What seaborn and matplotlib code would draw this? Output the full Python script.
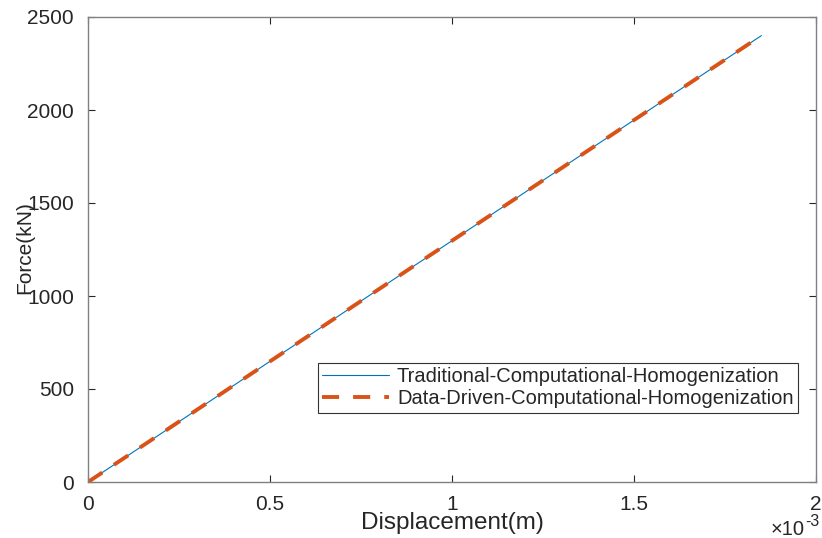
import matplotlib
matplotlib.use("Agg")
import matplotlib.pyplot as plt
import seaborn as sns
import pandas as pd
from matplotlib.ticker import FuncFormatter, FixedLocator

# Force-displacement response (linear elastic)
displacement = [0.0, 1.85e-3]          # m
force_traditional = [0.0, 2400.0]      # kN
force_data_driven = [0.0, 2400.0]      # kN

series_names = ["Traditional-Computational-Homogenization",
                "Data-Driven-Computational-Homogenization"]
x_ticks = [0.0, 0.5e-3, 1.0e-3, 1.5e-3, 2.0e-3]
y_ticks = [0, 500, 1000, 1500, 2000, 2500]

sns.set_style("white")
plt.rcParams["font.family"] = ["Liberation Sans", "DejaVu Sans"]

df = pd.DataFrame({
    "Displacement": displacement * 2,
    "Force": force_traditional + force_data_driven,
    "Method": [series_names[0]] * 2 + [series_names[1]] * 2,
})

W, H = 822, 538
fig = plt.figure(figsize=(W / 100, H / 100), dpi=100)
ax = fig.add_axes([88 / W, 1 - 482 / H, (816 - 88) / W, (482 - 17) / H])

blue = (0.0, 0.447, 0.741)
orange = (0.85, 0.325, 0.098)
text_col = "#262626"

sns.lineplot(data=df[df.Method == series_names[0]], x="Displacement", y="Force",
             color=blue, linewidth=0.8, ax=ax, label=series_names[0])
sns.lineplot(data=df[df.Method == series_names[1]], x="Displacement", y="Force",
             color=orange, linewidth=2.8, linestyle=(0, (4.4, 3.6)), ax=ax,
             label=series_names[1])

ax.set_xlim(0, 2e-3)
ax.set_ylim(0, 2500)
ax.xaxis.set_major_locator(FixedLocator(x_ticks))
ax.yaxis.set_major_locator(FixedLocator(y_ticks))
ax.xaxis.set_major_formatter(FuncFormatter(lambda v, p: f"{v * 1e3:g}"))

ax.tick_params(axis="both", which="both", direction="in", length=5,
               width=0.8, color=text_col, labelsize=15, labelcolor=text_col,
               top=True, right=True, bottom=True, left=True,
               labeltop=False, labelright=False)
ax.tick_params(axis="x", pad=9)
ax.tick_params(axis="y", pad=10)

for s in ax.spines.values():
    s.set_visible(True)
    s.set_color("#808080")
    s.set_linewidth(1.0)

ax.set_xlabel("Displacement(m)", fontsize=17.5, color=text_col, va="top")
ax.xaxis.set_label_coords(0.5, (482 - 512) / 465, transform=ax.transAxes)
ax.set_ylabel("Force(kN)", fontsize=15, color=text_col)
ax.yaxis.set_label_coords((34 - 88) / 728, (482 - 248) / 465, transform=ax.transAxes)

# exponent of the displacement axis
fig.text(805 / W, 1 - 535 / H, "\u00d710", fontsize=14.5,
         color=text_col, ha="right", va="baseline")
fig.text(805 / W, 1 - 526 / H, "-3", fontsize=11.5,
         color=text_col, ha="left", va="baseline")

leg = ax.legend(loc="upper left",
                bbox_to_anchor=((318 - 88) / 728, (482 - 363) / 465),
                fontsize=14.5, frameon=True, fancybox=False, framealpha=1,
                edgecolor="#333333", borderpad=0.22, labelspacing=0.14,
                handlelength=3.3, handletextpad=0.4, borderaxespad=0)
leg.get_frame().set_linewidth(0.8)

fig.savefig("out.png", dpi=100)
